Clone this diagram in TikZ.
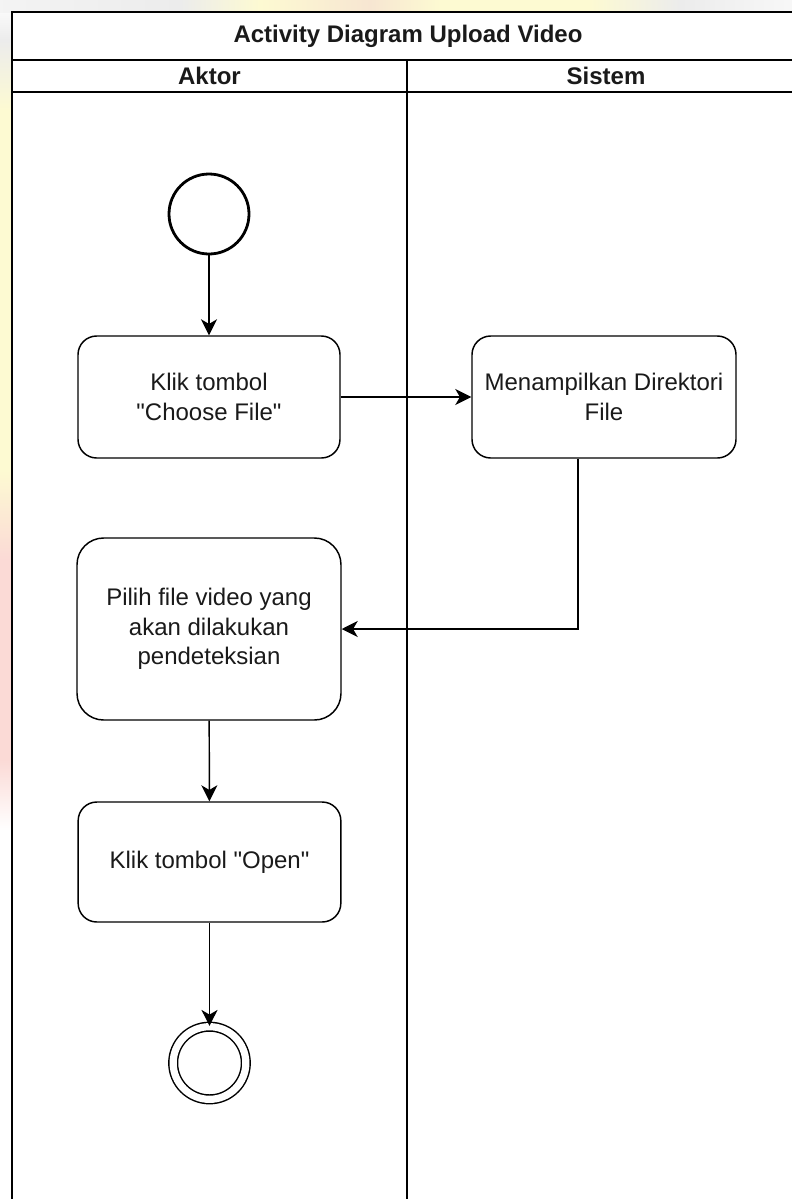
\documentclass[tikz,border=0pt]{standalone}
\usepackage{fontspec}
\setmainfont{Liberation Sans}
\usetikzlibrary{arrows.meta}

\definecolor{wmyellow}{HTML}{FDFAD2}
\definecolor{wmgrey}{HTML}{ECECEC}
\definecolor{wmpink}{HTML}{FBDAD6}
\definecolor{wmpeach}{HTML}{F7E6D2}
\definecolor{inktext}{HTML}{1A1A1A}

\newcommand{\qq}{\textquotedbl}

\begin{document}
\begin{tikzpicture}[x=0.75pt,y=-0.75pt,
  frameline/.style={line width=1.5pt,draw=black},
  lanetitle/.style={font=\fontsize{18}{22}\selectfont\bfseries,text=inktext,inner sep=0pt},
  act/.style={draw=black,line width=1.1pt,fill=white,align=center,text=inktext,
              font=\fontsize{18}{22}\selectfont,inner sep=0pt},
  startnode/.style={circle,draw=black,line width=2.1pt,fill=white,minimum size=60pt,inner sep=0pt},
  endnode/.style={circle,draw=black,line width=1.1pt,double=white,double distance=5.4pt,
                  minimum size=54.5pt,inner sep=0pt},
  flow/.style={line width=1.1pt,draw=black,-{Stealth[length=12pt,width=12pt,inset=3.5pt]}}]

% canvas
\useasboundingbox (0,0) rectangle (792,1199);
\fill[white] (0,0) rectangle (792,1199);

% faint watermark colours showing in the margins
\shade[top color=white,bottom color=wmgrey] (0,0) rectangle (12,40);
\shade[top color=wmgrey,bottom color=wmyellow] (0,40) rectangle (12,110);
\fill[wmyellow] (0,110) rectangle (12,470);
\shade[top color=wmyellow,bottom color=wmpink] (0,470) rectangle (12,560);
\fill[wmpink] (0,560) rectangle (12,760);
\shade[top color=wmpink,bottom color=white] (0,760) rectangle (12,830);
\shade[left color=wmgrey!60,right color=wmgrey] (0,0) rectangle (180,12);
\shade[left color=wmgrey,right color=wmyellow] (180,0) rectangle (260,12);
\shade[left color=wmyellow,right color=wmpeach] (260,0) rectangle (370,12);
\shade[left color=wmpeach,right color=wmyellow] (370,0) rectangle (440,12);
\fill[wmyellow] (440,0) rectangle (590,12);
\shade[left color=wmyellow,right color=wmgrey] (590,0) rectangle (680,12);
\shade[left color=wmgrey,right color=wmgrey!40] (680,0) rectangle (792,12);

% swimlane frame
\draw[frameline] (806,12) -- (12,12) -- (12,1199);
\draw[frameline] (12,60) -- (806,60);
\draw[frameline] (12,92) -- (806,92);
\draw[frameline] (407,60) -- (407,1199);

\node[lanetitle] (title) at (408,36) {Activity Diagram Upload Video};
\node[lanetitle] (laneA) at (209.5,76) {Aktor};
\node[lanetitle] (laneS) at (606,76) {Sistem};

% activities
\node[startnode] (start) at (209,214) {};
\node[act,rounded corners=14pt,minimum width=196.5pt,minimum height=91.5pt] (n1) at (209,397)
  {Klik tombol\\\qq Choose File\qq};
\node[act,rounded corners=14pt,minimum width=198pt,minimum height=91.5pt] (n2) at (604,397)
  {Menampilkan Direktori\\File};
\node[act,rounded corners=20pt,minimum width=198pt,minimum height=136.5pt] (n3) at (209,629)
  {Pilih file video yang\\akan dilakukan\\pendeteksian};
\node[act,rounded corners=14pt,minimum width=197pt,minimum height=90pt] (n4) at (209.5,862)
  {Klik tombol \qq Open\qq};
\node[endnode] (end) at (209.5,1063) {};

% control flow
\draw[flow] (start) -- (n1);
\draw[flow] (n1) -- (n2);
\draw[flow] ([xshift=-19.5pt]n2.south) |- (n3.east);
\draw[flow] (n3) -- (n4);
\draw[flow] (n4) -- (end);
\end{tikzpicture}
\end{document}
